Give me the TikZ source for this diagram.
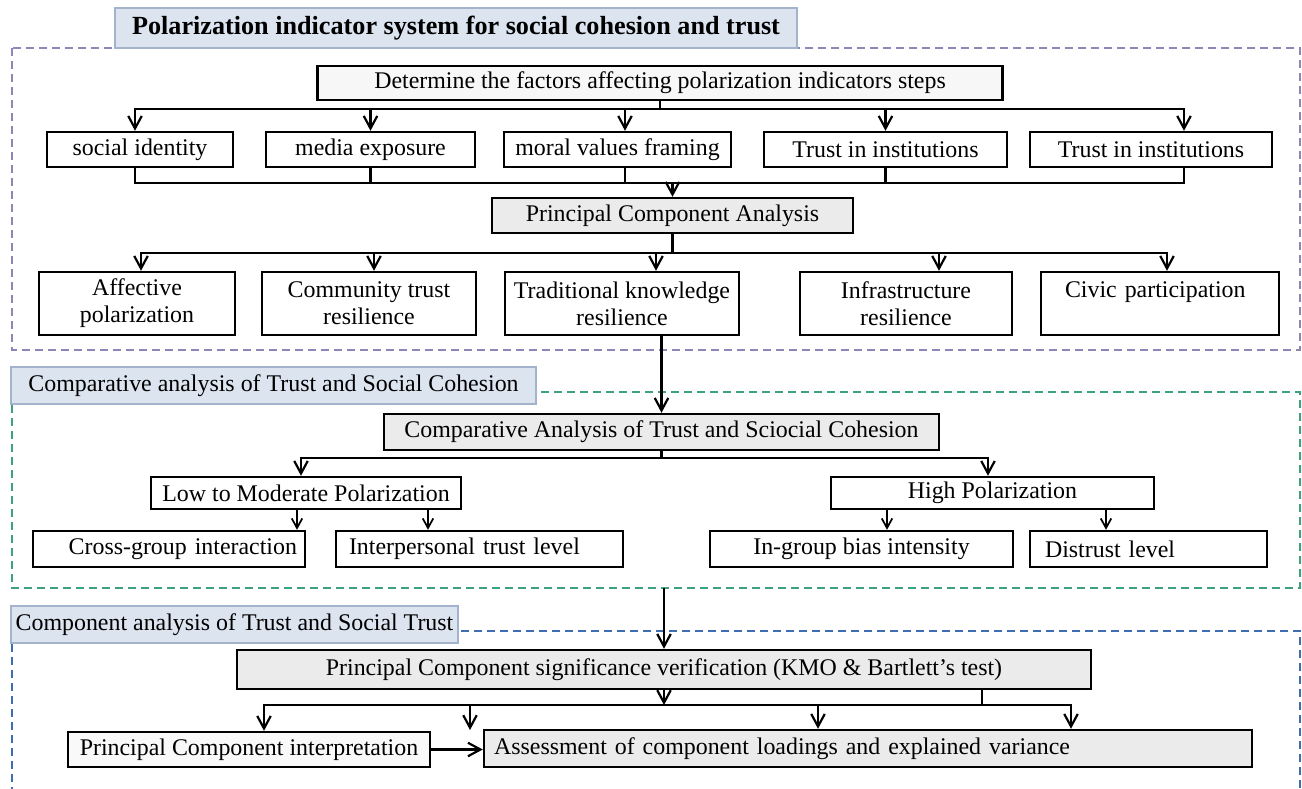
\documentclass[tikz,border=0pt]{standalone}
\usepackage{fontspec}
\setmainfont{Liberation Serif}
\usetikzlibrary{calc, arrows.meta, positioning}

\definecolor{titlefill}{HTML}{DCE4F0}
\definecolor{titledraw}{HTML}{A4B3CC}
\definecolor{frameA}{HTML}{8E86B6}
\definecolor{frameB}{HTML}{3DA37C}
\definecolor{frameC}{HTML}{3F6DB3}
\definecolor{boxgrey}{HTML}{EBEBEB}

\tikzset{
  box/.style={draw, line width=1.4pt, fill=white, inner sep=0pt, align=center,
    font=\fontsize{13.6}{15.5}\selectfont},
  greybox/.style={box, fill=boxgrey},
  titlebox/.style={draw=titledraw, line width=0.8pt, fill=titlefill, inner sep=0pt,
    font=\fontsize{13.6}{15.5}\selectfont},
  frame/.style={dash pattern=on 0.16cm off 0.1cm, line width=0.7pt},
  line/.style={line width=1.25pt},
  arr/.style={line width=1.25pt, -{Straight Barb[length=2.5mm,width=2.7mm]}},
  smallarr/.style={line width=1pt, -{Straight Barb[length=1.9mm,width=2.1mm]}},
  sz/.style 2 args={minimum width=#1*0.02cm, minimum height=#2*0.02cm},
}

\begin{document}
\begin{tikzpicture}[x=0.02cm, y=-0.02cm]
    \useasboundingbox (0,0) rectangle (1302,788);

    % 1. Dashed frames of the three parts
    \draw[frame, draw=frameA] (12,48) rectangle (1300,350);
    \draw[frame, draw=frameB] (12,392) rectangle (1300,588);
    \draw[frame, draw=frameC] (12,631) rectangle (1300,800);

    % 2. Part titles
    \node[titlebox, sz={682}{40}, font=\bfseries\fontsize{14.9}{17}\selectfont] (titleA) at (456,28)
        {Polarization indicator system for social cohesion and trust};
    \node[titlebox, sz={525}{37}] (titleB) at (273.5,385.5) {Comparative analysis of Trust and Social Cohesion};
    \node[titlebox, sz={447}{37}] (titleC) at (234.5,624.5) {Component analysis of Trust and Social Trust};

    % 3. Factors and principal components
    \node[box, fill=gray!6, sz={685}{34}] (steps) at (660,83) {Determine the factors affecting polarization indicators steps};
    \node[box, sz={186}{35}] (fSocial) at (140,149.5) {social identity};
    \node[box, sz={209}{35}] (fMedia) at (370.5,149.5) {media exposure};
    \node[box, sz={227}{35}] (fMoral) at (617.5,149.5) {moral values framing};
    \node[box, sz={243}{35}] (fTrustA) at (885.5,149.5) {Trust in institutions};
    \node[box, sz={242}{35}] (fTrustB) at (1151,149.5) {Trust in institutions};
    \node[greybox, sz={361}{35}] (pca) at (672.5,215.5) {Principal Component Analysis};

    \coordinate (busA) at (660,109);
    \coordinate (busB) at (672.5,183);
    \draw[line] (steps.south) -- (busA);
    \foreach \n/\dx in {fSocial/-5, fMedia/0, fMoral/7.5, fTrustA/0, fTrustB/33} {
        \draw[arr] (busA) -| ($(\n.north)+(\dx,0)$);
        \draw[line] ($(\n.south)+(\dx,0)$) |- (busB);
    }
    \draw[arr] (busB) -- (pca.north);

    \node[box, sz={196}{63}] (rAffect) at (137,303.5) {Affective\\polarization};
    \node[box, sz={214}{63}] (rCommun) at (369,303.5) {Community trust\\resilience};
    \node[box, sz={234}{63}] (rTradit) at (622,303.5) {Traditional knowledge\\resilience};
    \node[box, sz={212}{63}] (rInfra) at (906,303.5) {Infrastructure\\resilience};
    \node[box, sz={238}{63}, text width=3.8cm, inner xsep=0.48cm, align=left] (rCivic) at (1160,303.5)
        {Civic participation\\\mbox{}};

    \coordinate (busC) at (672.5,253);
    \draw[line] (pca.south) -- (busC);
    \foreach \n/\dx in {rAffect/4, rCommun/5, rTradit/34, rInfra/33, rCivic/7}
        \draw[arr] (busC) -| ($(\n.north)+(\dx,0)$);

    % 4. Comparative analysis
    \node[greybox, sz={555}{36}] (comp) at (661.5,432) {Comparative Analysis of Trust and Sciocial Cohesion};
    \draw[arr] (rTradit.south -| comp.north) -- (comp.north);

    \node[box, sz={310}{32}] (low) at (306,493) {Low to Moderate Polarization};
    \node[box, sz={323}{32}] (high) at (992.5,493) {High Polarization};
    \coordinate (busD) at (661.5,458);
    \draw[line] (comp.south) -- (busD);
    \draw[arr] (busD) -| ($(low.north)+(-5,0)$);
    \draw[arr] (busD) -| ($(high.north)+(-4.5,0)$);

    \node[box, sz={272}{36}, text width=5.12cm, inner xsep=0.16cm, align=right] (cross) at (169,549) {Cross-group interaction};
    \node[box, sz={287}{36}, text width=5.22cm, inner xsep=0.26cm, align=left] (inter) at (479.5,549) {Interpersonal trust level};
    \node[box, sz={303}{36}] (ingroup) at (861.5,549) {In-group bias intensity};
    \node[box, sz={237}{36}, text width=4.14cm, inner xsep=0.3cm, align=left] (distrust) at (1148.5,549) {Distrust level};

    \coordinate (lowL) at ($(low.south)+(-9,0)$);
    \coordinate (lowR) at ($(low.south)+(122,0)$);
    \coordinate (highL) at ($(high.south)+(-105.5,0)$);
    \coordinate (highR) at ($(high.south)+(113.5,0)$);
    \draw[smallarr] (lowL) -- (lowL |- cross.north);
    \draw[smallarr] (lowR) -- (lowR |- inter.north);
    \draw[smallarr] (highL) -- (highL |- ingroup.north);
    \draw[smallarr] (highR) -- (highR |- distrust.north);

    % 5. Component analysis
    \coordinate (outB) at (664,588);
    \node[greybox, sz={854}{39}] (sig) at (664,669.5)
        {Principal Component significance verification (KMO \& Bartlett’s test)};
    \draw[arr] (outB) -- (sig.north);

    \node[box, fill=gray!5, sz={362}{35}] (interp) at (249,749.5) {Principal Component interpretation};
    \node[greybox, sz={768}{37}, text width=14.96cm, inner xsep=0.2cm, align=left] (assess) at (868,748.5)
        {Assessment of component loadings and explained variance};

    \coordinate (busE) at (664,705);
    \coordinate (gapE) at (470,730);
    \draw[arr] (sig.south) -- (busE);
    \draw[line] ($(sig.south)+(318,0)$) |- (busE);
    \draw[arr] (busE) -| ($(interp.north)+(15,0)$);
    \draw[arr] (busE) -| (gapE);
    \draw[arr] (busE) -| ($(assess.north)+(-50,0)$);
    \draw[arr] (busE) -| ($(assess.north)+(203,0)$);
    \draw[arr] (interp.east) -- (interp.east -| assess.west);
\end{tikzpicture}
\end{document}
